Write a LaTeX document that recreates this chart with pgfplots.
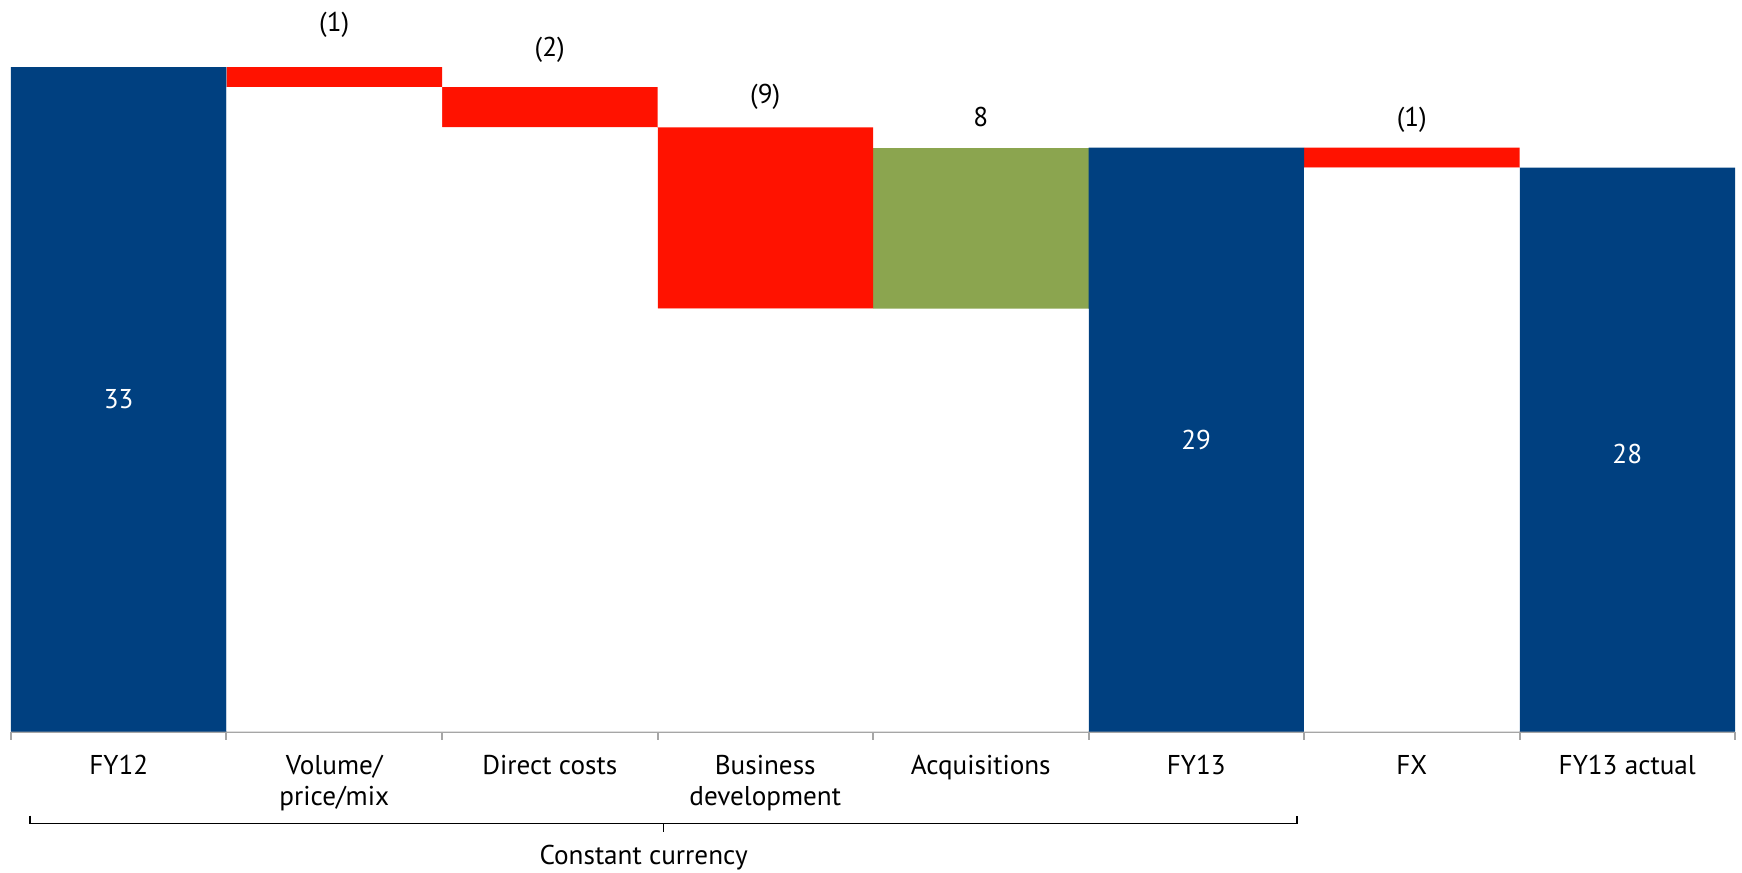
\documentclass[border=0pt]{standalone}
\usepackage{fontspec}
\setmainfont{PT Sans}
\usepackage{pgfplots}
\pgfplotsset{compat=1.18}
\definecolor{fyblue}{HTML}{004080}
\definecolor{negred}{HTML}{FF1200}
\definecolor{posgreen}{HTML}{8BA54F}
\definecolor{axgray}{HTML}{A6A6A6}
\newcommand{\lf}{\fontsize{13.6}{15.5}\selectfont}
\begin{document}
\begin{tikzpicture}
\path[use as bounding box] (-5.5pt,-70.5pt) rectangle (866pt,366pt);
\begin{axis}[at={(0,0)}, anchor=south west, scale only axis,
  width=862.5pt, height=366pt,
  xmin=-0.5, xmax=7.5, ymin=0, ymax=36.33,
  ybar stacked, bar width=107.81pt,
  axis y line=none, axis x line*=bottom,
  x axis line style={axgray, line width=1pt},
  xtick={0,...,7},
  xticklabels={FY12,{Volume/\\price/mix},Direct costs,{Business\\development},Acquisitions,FY13,FX,FY13 actual},
  major tick length=0pt,
  extra x ticks={-0.5,0.5,...,7.5}, extra x tick labels={},
  extra x tick style={major tick length=4pt, tick align=outside, tick style={axgray, line width=1pt}},
  xticklabel style={align=center, font=\lf, text=black, yshift=-8.5pt},
  clip=false]
\addplot[draw=none, fill=white] coordinates {(0,0)(1,32)(2,30)(3,21)(4,21)(5,0)(6,28)(7,0)};
\addplot[draw=none, fill=fyblue] coordinates {(0,33)(1,0)(2,0)(3,0)(4,0)(5,29)(6,0)(7,28)};
\addplot[draw=none, fill=negred] coordinates {(0,0)(1,1)(2,2)(3,9)(4,0)(5,0)(6,1)(7,0)};
\addplot[draw=none, fill=posgreen] coordinates {(0,0)(1,0)(2,0)(3,0)(4,8)(5,0)(6,0)(7,0)};
\node[font=\lf] at (axis cs:1,35.1) {(1)};
\node[font=\lf] at (axis cs:2,33.85) {(2)};
\node[font=\lf] at (axis cs:3,31.5) {(9)};
\node[font=\lf] at (axis cs:4,30.5) {8};
\node[font=\lf] at (axis cs:6,30.4) {(1)};
\end{axis}
\node[font=\lf, text=white] at (53.9pt,166.2pt) {33};
\node[font=\lf, text=white] at (592.9pt,146.1pt) {29};
\node[font=\lf, text=white] at (808.6pt,139pt) {28};
\draw[black, line width=0.8pt] (9.5pt,-42pt) -- (9.5pt,-46pt) -- (643.5pt,-46pt) -- (643.5pt,-42pt);
\draw[black, line width=0.8pt] (326.5pt,-46pt) -- (326.5pt,-50pt);
\node[font=\lf] at (316.5pt,-63pt) {Constant currency};
\end{tikzpicture}
\end{document}
